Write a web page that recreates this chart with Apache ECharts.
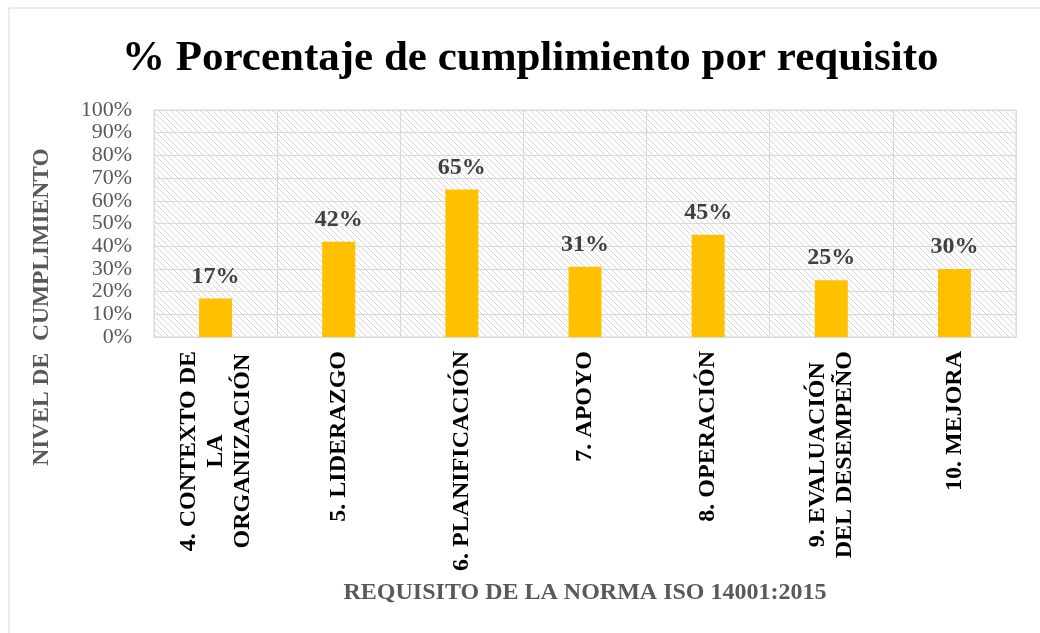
<!DOCTYPE html>
<html>
<head>
<meta charset="utf-8">
<script src="https://cdn.jsdelivr.net/npm/echarts@6/dist/echarts.min.js"></script>
<style>html,body{margin:0;padding:0;background:#fff;}#c{width:1040px;height:633px;}</style>
</head>
<body>
<div id="c"></div>
<script>
const categories = ["4. CONTEXTO DE\nLA\nORGANIZACIÓN", "5. LIDERAZGO", "6. PLANIFICACIÓN", "7. APOYO", "8. OPERACIÓN", "9. EVALUACIÓN\nDEL DESEMPEÑO", "10. MEJORA"];
const values = [0.17, 0.42, 0.65, 0.31, 0.45, 0.25, 0.30];
const titleText = "% Porcentaje de cumplimiento por requisito";
const xName = "REQUISITO DE LA NORMA ISO 14001:2015";
const yName = "NIVEL DE  CUMPLIMIENTO";

const serif = '"Liberation Serif", "Times New Roman", serif';

// hatch pattern for plot background
const pc = document.createElement('canvas');
pc.width = 6; pc.height = 6;
const pctx = pc.getContext('2d');
pctx.fillStyle = '#ffffff';
pctx.fillRect(0, 0, 6, 6);
pctx.fillStyle = '#d6d6d6';
for (let i = 0; i < 6; i++) { pctx.fillRect(i, i, 1, 1); }

const chart = echarts.init(document.getElementById('c'), null, {renderer: 'canvas'});
chart.setOption({
  backgroundColor: '#ffffff',
  animation: false,
  title: {
    text: titleText,
    left: 117,
    top: 32,
    textStyle: {fontFamily: serif, fontWeight: 'bold', fontSize: 43, color: '#000000'}
  },
  graphic: [
    {type: 'rect', shape: {x: 9, y: 8, width: 1200, height: 800}, style: {fill: 'none', stroke: '#d9d9d9', lineWidth: 1}, z: -1, silent: true},
    {type: 'text', x: 42, y: 307, rotation: Math.PI / 2,
     style: {text: yName, fontFamily: serif, fontWeight: 'bold', fontSize: 23.5, fill: '#595959', align: 'center', verticalAlign: 'middle'}}
  ],
  grid: {
    left: 154, right: 24, top: 110, bottom: 296,
    show: true,
    backgroundColor: {image: pc, repeat: 'repeat'},
    borderColor: '#d9d9d9', borderWidth: 1
  },
  xAxis: {
    type: 'category',
    data: categories,
    name: xName,
    nameLocation: 'middle',
    nameGap: 244,
    nameTextStyle: {fontFamily: serif, fontWeight: 'bold', fontSize: 24, color: '#595959'},
    axisLine: {show: true, lineStyle: {color: '#d9d9d9', width: 1}},
    axisTick: {show: false},
    splitLine: {show: true, lineStyle: {color: '#d9d9d9', width: 1}},
    axisLabel: {
      rotate: 90,
      margin: 14,
      interval: 0,
      formatter: function (v) { return v.split('\n').map(s => '{c|' + s + '}').join('\n'); },
      rich: {c: {align: 'center', fontFamily: serif, fontWeight: 'bold', fontSize: 24, lineHeight: 27, color: '#000000'}}
    }
  },
  yAxis: {
    type: 'value',
    min: 0, max: 1, interval: 0.1,
    axisLine: {show: false},
    axisTick: {show: false},
    splitLine: {show: true, lineStyle: {color: '#d9d9d9', width: 1}},
    axisLabel: {
      margin: 22,
      fontFamily: serif, fontSize: 22, color: '#595959',
      formatter: function (v) { return Math.round(v * 100) + '%'; }
    }
  },
  series: [{
    type: 'bar',
    data: values,
    barWidth: 33,
    itemStyle: {color: '#FFC000'},
    label: {
      show: true, position: 'top', distance: 10,
      fontFamily: serif, fontWeight: 'bold', fontSize: 24, color: '#404040',
      formatter: function (p) { return Math.round(p.value * 100) + '%'; }
    }
  }]
});
</script>
</body>
</html>
